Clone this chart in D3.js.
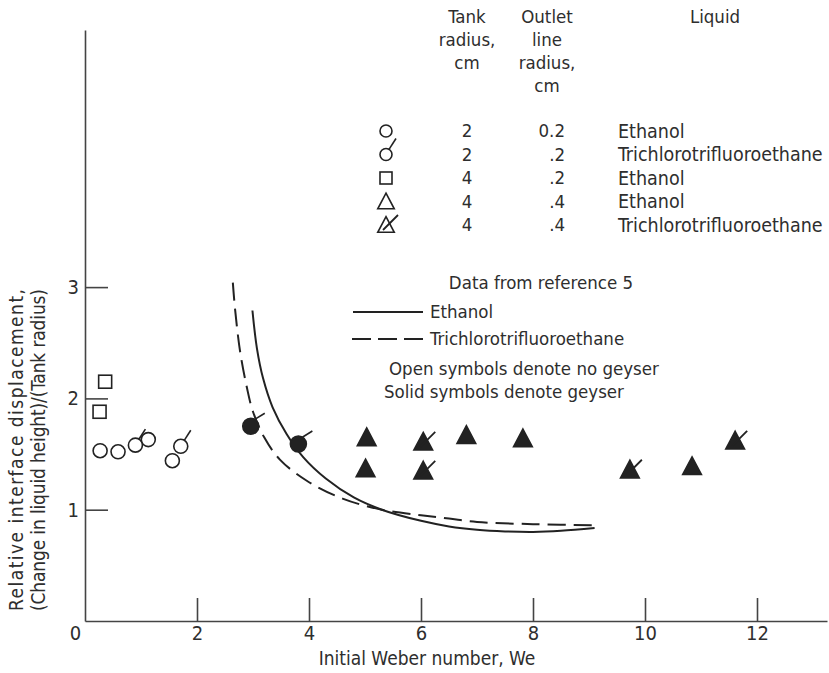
<!DOCTYPE html>
<html>
<head>
<meta charset="utf-8">
<script src="https://cdn.jsdelivr.net/npm/d3@7"></script>
<style>
  body { margin: 0; background: #fff; }
  svg { display: block; }
  text { font-family: "DejaVu Sans Condensed", "DejaVu Sans", sans-serif; fill: #2e2e2e; }
</style>
</head>
<body>
<svg id="chart" width="829" height="673"></svg>
<script>
// curves, data from reference 5
const ethanolX = [2.99, 3.07, 3.18, 3.35, 3.6, 3.9, 4.3, 4.8, 5.3, 6.0, 6.5, 7.0, 7.5, 8.0, 8.5, 9.1]
const ethanolY = [2.79, 2.45, 2.18, 1.92, 1.68, 1.47, 1.28, 1.11, 1.0, 0.9, 0.85, 0.82, 0.805, 0.8, 0.81, 0.835]
const trichloroX = [2.64, 2.68, 2.77, 2.89, 3.0, 3.2, 3.48, 3.96, 4.6, 5.3, 6.0, 6.5, 7.0, 8.0, 9.16]
const trichloroY = [3.04, 2.8, 2.42, 2.1, 1.88, 1.65, 1.45, 1.26, 1.1, 1.0, 0.95, 0.92, 0.89, 0.87, 0.86]

// open circles (tank radius 2), flag = trichlorotrifluoroethane
const openCircleX = [0.27, 0.59, 0.9, 1.13, 1.56, 1.71]
const openCircleY = [1.53, 1.52, 1.58, 1.63, 1.44, 1.57]
const openCircleFlag = [false, false, true, false, false, true]

// open squares (tank radius 4, outlet .2)
const squareX = [0.36, 0.26]
const squareY = [2.15, 1.88]

// solid circles
const solidCircleX = [2.96, 3.81]
const solidCircleY = [1.75, 1.59]

// solid triangles (tank radius 4, outlet .4)
const triangleX = [5.03, 5.01, 6.04, 6.04, 6.81, 7.82, 9.73, 10.84, 11.61]
const triangleY = [1.64, 1.36, 1.6, 1.34, 1.66, 1.63, 1.35, 1.38, 1.61]
const triangleFlag = [false, false, true, true, false, false, true, false, true]

const xTicks = [0, 2, 4, 6, 8, 10, 12]
const yTicks = [1, 2, 3]

// legend table
const legendSymbol = ['circle', 'circleFlag', 'square', 'triangle', 'triangleFlag']
const legendTank = ['2', '2', '4', '4', '4']
const legendOutlet = ['0.2', '.2', '.2', '.4', '.4']
const legendLiquid = ['Ethanol', 'Trichlorotrifluoroethane', 'Ethanol', 'Ethanol', 'Trichlorotrifluoroethane']

const svg = d3.select('#chart')
const ink = '#222'

const x = d3.scaleLinear().domain([0, 13.25]).range([85, 827])
const y = d3.scaleLinear().domain([0, 5.31]).range([621, 30])

// axes, ticks point inward
const xAxis = svg.append('g')
  .attr('transform', `translate(0,${y(0)})`)
  .call(d3.axisBottom(x).tickValues(xTicks).tickSize(-23).tickSizeOuter(0).tickPadding(5).tickFormat(d3.format('d')))
const yAxis = svg.append('g')
  .attr('transform', `translate(${x(0)},0)`)
  .call(d3.axisLeft(y).tickValues(yTicks).tickSize(-23).tickSizeOuter(0).tickPadding(6).tickFormat(d3.format('d')))

svg.selectAll('.domain, .tick line').attr('stroke', '#444').attr('stroke-width', 1.6)
svg.selectAll('.tick text')
  .attr('font-size', 20)
  .attr('font-family', '"DejaVu Sans Condensed", sans-serif')
  .attr('fill', '#333')
xAxis.selectAll('.tick').filter(d => d === 0).select('line').remove()
xAxis.selectAll('.tick').filter(d => d === 0).select('text').attr('x', -10)

svg.append('text')
  .attr('x', 427).attr('y', 665)
  .attr('text-anchor', 'middle')
  .attr('font-size', 19)
  .text('Initial Weber number, We')

const yLabel = ['Relative interface displacement,', '(Change in liquid height)/(Tank radius)']
yLabel.forEach((t, i) => {
  svg.append('text')
    .attr('transform', `translate(${23 + i * 22},450) rotate(-90)`)
    .attr('text-anchor', 'middle')
    .attr('font-family', '"DejaVu Sans", sans-serif')
    .attr('font-size', 19)
    .attr('textLength', 322)
    .attr('lengthAdjust', 'spacing')
    .text(t)
})

// curves
const line = d3.line().x(d => x(d[0])).y(d => y(d[1])).curve(d3.curveCatmullRom)
svg.append('path')
  .attr('d', line(d3.zip(ethanolX, ethanolY)))
  .attr('fill', 'none').attr('stroke', ink).attr('stroke-width', 2)
svg.append('path')
  .attr('d', line(d3.zip(trichloroX, trichloroY)))
  .attr('fill', 'none').attr('stroke', ink).attr('stroke-width', 2)
  .attr('stroke-dasharray', '18,8')

// symbol helpers
const triPath = s => `M0,${-s * 0.62}L${s * 0.55},${s * 0.42}L${-s * 0.55},${s * 0.42}Z`

function drawCircle(g, cx, cy, r, filled, flag) {
  if (flag) {
    g.append('line')
      .attr('x1', cx + r * 0.5).attr('y1', cy - r * 0.85)
      .attr('x2', cx + (filled ? 14 : 10)).attr('y2', cy - (filled ? 13 : 16))
      .attr('stroke', ink).attr('stroke-width', 1.6)
  }
  g.append('circle')
    .attr('cx', cx).attr('cy', cy).attr('r', r)
    .attr('fill', filled ? ink : 'none')
    .attr('stroke', ink).attr('stroke-width', 1.6)
}

function drawTriangle(g, cx, cy, s, filled, flag) {
  g.append('path')
    .attr('transform', `translate(${cx},${cy})`)
    .attr('d', triPath(s))
    .attr('fill', filled ? ink : 'none')
    .attr('stroke', ink).attr('stroke-width', 1.6)
  if (flag) {
    g.append('line')
      .attr('x1', cx - 3).attr('y1', cy + 4)
      .attr('x2', cx + 12).attr('y2', cy - 11)
      .attr('stroke', ink).attr('stroke-width', 1.8)
  }
}

function drawSquare(g, cx, cy, s) {
  g.append('rect')
    .attr('x', cx - s / 2).attr('y', cy - s / 2)
    .attr('width', s).attr('height', s)
    .attr('fill', 'none').attr('stroke', ink).attr('stroke-width', 1.6)
}

const marks = svg.append('g')
openCircleX.forEach((v, i) => drawCircle(marks, x(v), y(openCircleY[i]), 7, false, openCircleFlag[i]))
squareX.forEach((v, i) => drawSquare(marks, x(v), y(squareY[i]), 13))
solidCircleX.forEach((v, i) => drawCircle(marks, x(v), y(solidCircleY[i]), 8, true, true))
triangleX.forEach((v, i) => drawTriangle(marks, x(v), y(triangleY[i]), 17, true, triangleFlag[i]))

// legend table
const leg = svg.append('g').attr('font-size', 18.5)
const headTank = ['Tank', 'radius,', 'cm']
const headOutlet = ['Outlet', 'line', 'radius,', 'cm']
headTank.forEach((t, i) => leg.append('text').attr('x', 467).attr('y', 17 + i * 23).attr('dy', '0.35em').attr('text-anchor', 'middle').text(t))
headOutlet.forEach((t, i) => leg.append('text').attr('x', 547).attr('y', 17 + i * 23).attr('dy', '0.35em').attr('text-anchor', 'middle').text(t))
leg.append('text').attr('x', 715).attr('y', 17).attr('dy', '0.35em').attr('text-anchor', 'middle').text('Liquid')

legendSymbol.forEach((s, i) => {
  const ry = 131 + i * 23.5
  if (s.startsWith('circle')) drawCircle(leg, 386, ry, 6, false, s.endsWith('Flag'))
  if (s === 'square') drawSquare(leg, 386, ry, 12)
  if (s.startsWith('triangle')) drawTriangle(leg, 386, ry + 1, 15, false, s.endsWith('Flag'))
  leg.append('text').attr('x', 467).attr('y', ry).attr('dy', '0.35em').attr('text-anchor', 'middle').text(legendTank[i])
  leg.append('text').attr('x', 565).attr('y', ry).attr('dy', '0.35em').attr('text-anchor', 'end').text(legendOutlet[i])
  leg.append('text').attr('x', 618).attr('y', ry).attr('dy', '0.35em').attr('font-size', 19.5).text(legendLiquid[i])
})

// reference curve legend and notes
leg.append('text').attr('x', 541).attr('y', 283).attr('dy', '0.35em').attr('text-anchor', 'middle').text('Data from reference 5')
leg.append('line').attr('x1', 353).attr('x2', 423).attr('y1', 312).attr('y2', 312)
  .attr('stroke', ink).attr('stroke-width', 2)
leg.append('text').attr('x', 430).attr('y', 312).attr('dy', '0.35em').text('Ethanol')
leg.append('line').attr('x1', 352).attr('x2', 423).attr('y1', 339).attr('y2', 339)
  .attr('stroke', ink).attr('stroke-width', 2).attr('stroke-dasharray', '19,7')
leg.append('text').attr('x', 430).attr('y', 339).attr('dy', '0.35em').text('Trichlorotrifluoroethane')
leg.append('text').attr('x', 389).attr('y', 369).attr('dy', '0.35em').text('Open symbols denote no geyser')
leg.append('text').attr('x', 384).attr('y', 392).attr('dy', '0.35em').text('Solid symbols denote geyser')
</script>
</body>
</html>
